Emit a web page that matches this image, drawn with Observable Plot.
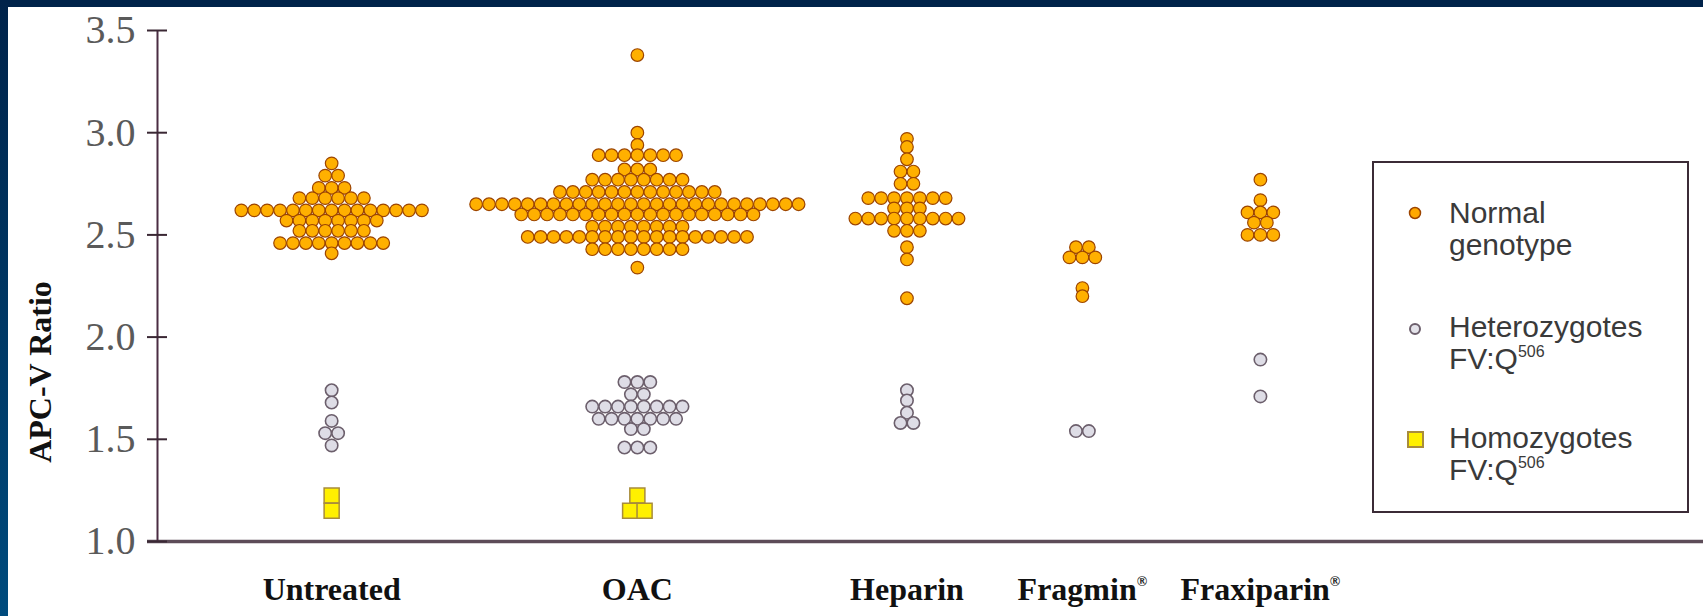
<!DOCTYPE html>
<html><head><meta charset="utf-8">
<script src="https://cdn.jsdelivr.net/npm/d3@7"></script>
<script src="https://cdn.jsdelivr.net/npm/@observablehq/plot@0.6"></script>
<style>
html,body{margin:0;padding:0;background:#fff;}
#wrap{position:relative;width:1703px;height:616px;overflow:hidden;background:#fff;}
#topbar{position:absolute;left:0;top:0;width:1703px;height:7px;background:#00234a;z-index:3;}
#leftbar{position:absolute;left:0;top:0;width:8px;height:616px;background:linear-gradient(#00234a,#004b7d);z-index:3;}
#chart{position:absolute;left:0;top:0;}
#legend{position:absolute;left:1372px;top:161px;width:313px;height:348px;border:2px solid #3b2b36;box-sizing:content-box;
  font-family:"Liberation Sans",Arial,sans-serif;font-size:30px;line-height:32px;color:#3a3a3a;z-index:2;background:#fff;}
#legend .item{position:absolute;left:75px;white-space:nowrap;}
#legend .sup{font-size:16px;position:relative;top:-12px;}
#legend svg{position:absolute;left:0;top:0;}
</style></head>
<body>
<div id="wrap">
  <div id="chart"></div>
  <div id="topbar"></div>
  <div id="leftbar"></div>
  <div id="legend">
    <svg width="313" height="348">
      <circle cx="41" cy="50" r="5.5" fill="#ffa800" stroke="#9c4400" stroke-width="1.5"></circle>
      <circle cx="41" cy="166" r="5" fill="#e4e3ea" stroke="#6c5f6c" stroke-width="2"></circle>
      <rect x="34" y="269" width="15" height="15" fill="#fff000" stroke="#a88c3c" stroke-width="2"></rect>
    </svg>
    <div class="item" style="top:34px">Normal<br>genotype</div>
    <div class="item" style="top:148px">Heterozygotes<br>FV:Q<span class="sup">506</span></div>
    <div class="item" style="top:259px">Homozygotes<br>FV:Q<span class="sup">506</span></div>
  </div>
</div>
<script>
const categories = ["Untreated", "OAC", "Heparin", "Fragmin®", "Fraxiparin®"];
const ratioTicks = [1.0, 1.5, 2.0, 2.5, 3.0, 3.5];

// [treatment, APC-V ratio, number of patients with that ratio]
const normalGenotype = [
  ["Untreated", 2.85, 1], ["Untreated", 2.79, 2], ["Untreated", 2.73, 3], ["Untreated", 2.68, 6],
  ["Untreated", 2.62, 15], ["Untreated", 2.57, 8], ["Untreated", 2.52, 6], ["Untreated", 2.46, 9],
  ["Untreated", 2.41, 1],
  ["OAC", 3.38, 1], ["OAC", 3.00, 1], ["OAC", 2.94, 1], ["OAC", 2.89, 7], ["OAC", 2.82, 3],
  ["OAC", 2.77, 8], ["OAC", 2.71, 13], ["OAC", 2.65, 26], ["OAC", 2.60, 19], ["OAC", 2.54, 8],
  ["OAC", 2.49, 18], ["OAC", 2.43, 8], ["OAC", 2.34, 1],
  ["Heparin", 2.97, 1], ["Heparin", 2.93, 1], ["Heparin", 2.87, 1], ["Heparin", 2.81, 2],
  ["Heparin", 2.75, 2], ["Heparin", 2.68, 7], ["Heparin", 2.63, 3], ["Heparin", 2.58, 9],
  ["Heparin", 2.52, 3], ["Heparin", 2.44, 1], ["Heparin", 2.38, 1], ["Heparin", 2.19, 1],
  ["Fragmin®", 2.44, 2], ["Fragmin®", 2.39, 3], ["Fragmin®", 2.24, 1], ["Fragmin®", 2.20, 1],
  ["Fraxiparin®", 2.77, 1], ["Fraxiparin®", 2.67, 1], ["Fraxiparin®", 2.61, 3],
  ["Fraxiparin®", 2.56, 2], ["Fraxiparin®", 2.50, 3]
];
const heterozygotes = [
  ["Untreated", 1.74, 1], ["Untreated", 1.68, 1], ["Untreated", 1.59, 1], ["Untreated", 1.53, 2], ["Untreated", 1.47, 1],
  ["OAC", 1.78, 3], ["OAC", 1.72, 2], ["OAC", 1.66, 8], ["OAC", 1.60, 7], ["OAC", 1.55, 2], ["OAC", 1.46, 3],
  ["Heparin", 1.74, 1], ["Heparin", 1.69, 1], ["Heparin", 1.63, 1], ["Heparin", 1.58, 2],
  ["Fragmin®", 1.54, 2],
  ["Fraxiparin®", 1.89, 1], ["Fraxiparin®", 1.71, 1]
];
const homozygotes = [
  ["Untreated", 1.225, 1], ["Untreated", 1.15, 1],
  ["OAC", 1.225, 1], ["OAC", 1.15, 2]
];

// layout: x scale measured in dot widths; centre of each treatment column
const categoryCenter = [13.5, 37.2, 58.1, 71.7, 85.5];
function layout(rows, spacing) {
  return rows.flatMap(([category, ratio, count]) => {
    const c = categoryCenter[categories.indexOf(category)];
    return d3.range(count).map(k => ({category, ratio, x: c + (k - (count - 1) / 2) * spacing}));
  });
}

const W = 1703, ML = 157;
const chart = Plot.plot({
  width: W, height: 616,
  marginTop: 30, marginBottom: 75, marginLeft: ML, marginRight: 0,
  x: {type: "linear", domain: [0, 119.85], axis: null},
  y: {domain: [1, 3.5]},
  style: {background: "transparent", fontFamily: "'Liberation Serif', 'DejaVu Serif', serif"},
  marks: [
    Plot.ruleY([1], {stroke: "#5d4c58", strokeWidth: 3.5, insetLeft: -10}),
    Plot.ruleX([0], {y1: 1, y2: 3.5, stroke: "#4b2c42", strokeWidth: 2}),
    // tick marks crossing the y axis line
    Plot.ruleY(ratioTicks, {stroke: "#3a2834", strokeWidth: 2, insetLeft: -10, insetRight: (W - ML) - 10}),
    Plot.axisY({ticks: ratioTicks, tickFormat: d3.format(".1f"), tickSize: 0, tickPadding: 22,
      stroke: "none", fill: "#5a5a5a", fontSize: 40, label: null}),
    Plot.dot(layout(normalGenotype, 1), {x: "x", y: "ratio", r: 6.3, fill: "#ffb000", stroke: "#9c4400", strokeWidth: 1.2}),
    Plot.dot(layout(heterozygotes, 1), {x: "x", y: "ratio", r: 6.2, fill: "#dedde6", stroke: "#6c5f6c", strokeWidth: 1.6}),
    Plot.dot(layout(homozygotes, 1.12), {x: "x", y: "ratio", symbol: "square", r: 8.5, fill: "#fff000", stroke: "#a88c3c", strokeWidth: 1.5}),
    Plot.text(categories, {x: (d, i) => categoryCenter[i], frameAnchor: "bottom", lineAnchor: "middle", dy: 48,
      fontSize: 32, fontWeight: "bold", fill: "#111"}),
    Plot.text(["APC-V Ratio"], {frameAnchor: "left", textAnchor: "middle", lineAnchor: "middle", dx: -117, dy: 86, rotate: -90,
      fontSize: 32, fontWeight: "bold", fill: "#111"})
  ]
});
document.getElementById("chart").appendChild(chart);

// small superscript registered-trademark signs on the treatment labels
d3.select(chart).selectAll("text").each(function () {
  const t = this.textContent;
  if (t.includes("®") && this.childElementCount === 0) {
    const sel = d3.select(this);
    sel.text(t.replace("®", ""));
    sel.append("tspan").attr("font-size", "14px").attr("dy", "-14").text("®");
  }
});
</script>
</body></html>
